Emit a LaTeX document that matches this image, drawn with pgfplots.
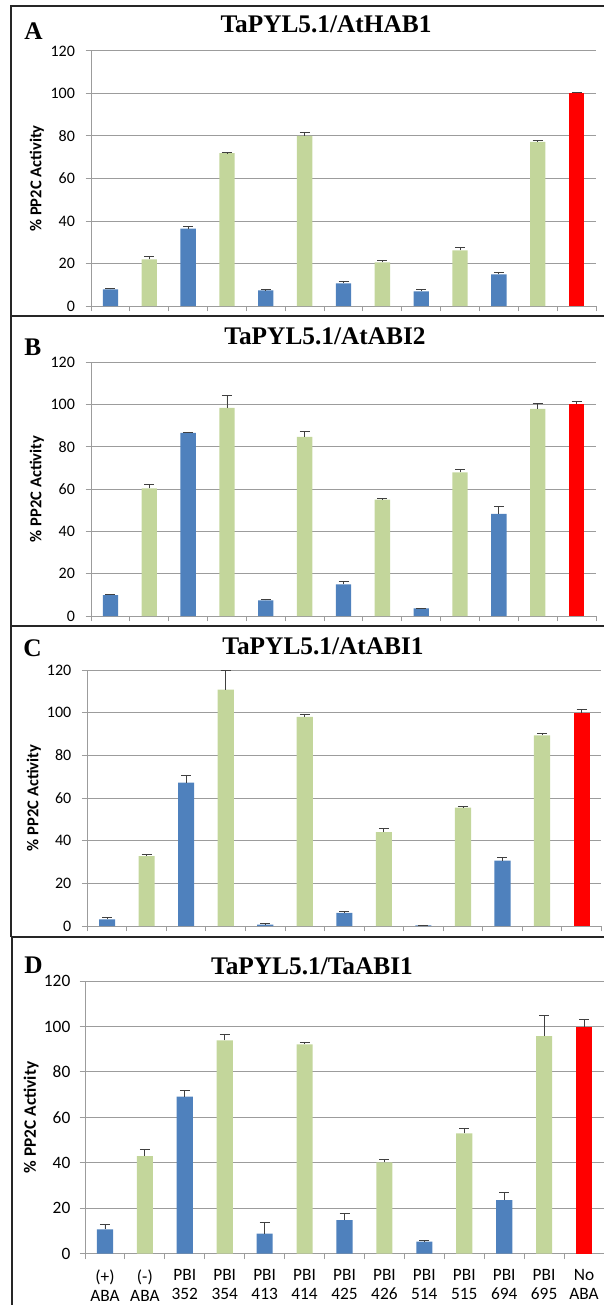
\documentclass[border=0pt]{standalone}
\usepackage{pgfplots}
\pgfplotsset{compat=1.18}
\usepackage{fontspec}
\setmainfont{Liberation Serif}
\newfontfamily\carlito{Carlito}

\definecolor{barblue}{HTML}{4F81BD}
\definecolor{bargreen}{HTML}{C3D69B}
\definecolor{barred}{HTML}{FF0000}
\definecolor{gridgray}{HTML}{9C9C9C}
\definecolor{errgray}{HTML}{404040}

\pgfplotsset{
  ppbase/.style={
    scale only axis, anchor=south west,
    xmin=0.5, xmax=13.5, ymin=0, ymax=120,
    axis x line*=bottom, axis y line*=left,
    axis line style={draw=gridgray, line width=0.75pt},
    ytick={0,20,...,120},
    ymajorgrids, grid style={draw=gridgray, line width=0.75pt},
    xtick={0.5,1.5,...,13.5}, xticklabels={},
    tick align=outside, major tick length=4pt,
    tick style={draw=gridgray, line width=0.75pt},
    /pgf/number format/assume math mode=true,
    ylabel={\bfseries\% PP2C Activity},
    clip=false,
  },
  ppsmall/.style={
    ticklabel style={font=\carlito\fontsize{12}{14}\selectfont},
    yticklabel style={xshift=-4.5pt},
    ylabel style={font=\carlito\fontsize{12.4}{14}\selectfont, anchor=center,
                  at={(axis description cs:#1,0.5)}},
  },
  errbar/.style={
    error bars/.cd, y dir=plus, y explicit,
    error bar style={draw=errgray, line width=0.6pt},
    error mark options={rotate=90, mark size=3.75pt, draw=errgray, line width=0.6pt},
  },
  pbar/.style 2 args={ybar, bar shift=0pt, bar width=#1, fill=#2, draw=none, errbar},
}

\begin{document}
\begin{tikzpicture}
\useasboundingbox (0,0) rectangle (452.25pt,-978.75pt);

% panel frames, letters and titles (pixel grid, y downwards)
\begin{scope}[x=0.75pt, y=-0.75pt]
  \draw[line width=1.4pt, black!85] (11,937) -- (11,6) -- (620,6);
  \draw[line width=1.4pt, black!85] (11,316) -- (620,316);
  \draw[line width=1.4pt, black!85] (11,626) -- (620,626);
  \draw[line width=1.4pt, black!85] (11,937) -- (620,937);
  \draw[line width=1.4pt, black!85] (12,937) -- (12,1320);
  \begin{scope}[every node/.style={inner sep=0pt, font=\bfseries\fontsize{19}{22}\selectfont}]
    \node[anchor=base west] at (24,40) {A};
    \node[anchor=base west] at (24,355) {B};
    \node[anchor=base west] at (23,656) {C};
    \node[anchor=base west] at (24,973) {D};
    \node[anchor=base] at (326,33) {TaPYL5.1/AtHAB1};
    \node[anchor=base] at (325,344) {TaPYL5.1/AtABI2};
    \node[anchor=base] at (323,654) {TaPYL5.1/AtABI1};
    \node[anchor=base] at (312,974) {TaPYL5.1/TaABI1};
  \end{scope}
\end{scope}

% A: TaPYL5.1/AtHAB1
\begin{axis}[ppbase, ppsmall=-0.107, at={(68.25pt,-229.5pt)},
  width=378.75pt, height=191.25pt]
\addplot[pbar={11.5pt}{barblue}] coordinates {
  (1,7.8) +- (0,0.6) (3,36.4) +- (0,1.1) (5,7.4) +- (0,0.3)
  (7,10.7) +- (0,1.1) (9,6.9) +- (0,0.7) (11,14.9) +- (0,0.9)};
\addplot[pbar={11.5pt}{bargreen}] coordinates {
  (2,22.0) +- (0,1.3) (4,71.9) +- (0,0.3) (6,80.0) +- (0,1.6)
  (8,20.5) +- (0,1.1) (10,26.2) +- (0,1.4) (12,77.2) +- (0,0.6)};
\addplot[pbar={11.5pt}{barred}] coordinates {(13,100) +- (0,0.7)};
\end{axis}

% B: TaPYL5.1/AtABI2
\begin{axis}[ppbase, ppsmall=-0.107, at={(68.25pt,-462pt)},
  width=378.75pt, height=190.5pt]
\addplot[pbar={11.5pt}{barblue}] coordinates {
  (1,9.9) +- (0,0.3) (3,86.5) +- (0,0.4) (5,7.4) +- (0,0.5)
  (7,15.0) +- (0,1.2) (9,3.6) +- (0,0.2) (11,48.2) +- (0,3.5)};
\addplot[pbar={11.5pt}{bargreen}] coordinates {
  (2,60.3) +- (0,1.9) (4,98.3) +- (0,5.8) (6,84.6) +- (0,2.5)
  (8,55.0) +- (0,0.4) (10,67.9) +- (0,1.2) (12,97.8) +- (0,2.8)};
\addplot[pbar={11.5pt}{barred}] coordinates {(13,100) +- (0,1.5)};
\end{axis}

% C: TaPYL5.1/AtABI1
\begin{axis}[ppbase, ppsmall=-0.104, at={(65.5pt,-694.5pt)},
  width=385.5pt, height=192pt]
\addplot[pbar={12.1pt}{barblue}] coordinates {
  (1,3.1) +- (0,1.0) (3,67.2) +- (0,3.6) (5,0.6) +- (0,0.8)
  (7,6.1) +- (0,0.8) (9,0.3) +- (0,0.2) (11,30.6) +- (0,1.5)};
\addplot[pbar={12.1pt}{bargreen}] coordinates {
  (2,32.8) +- (0,0.7) (4,110.8) +- (0,8.9) (6,98.0) +- (0,1.4)
  (8,44.0) +- (0,1.7) (10,55.5) +- (0,0.4) (12,89.4) +- (0,1.1)};
\addplot[pbar={12.1pt}{barred}] coordinates {(13,100) +- (0,1.5)};
\end{axis}

% D: TaPYL5.1/TaABI1
\begin{axis}[ppbase, at={(63.75pt,-940.3pt)},
  width=389.25pt, height=204.5pt,
  ticklabel style={font=\carlito\fontsize{13}{14.2}\selectfont},
  yticklabel style={xshift=-3.5pt},
  ylabel style={font=\carlito\fontsize{13}{15}\selectfont, anchor=center,
                at={(axis description cs:-0.104,0.5)}},
  extra x ticks={1,2,...,13},
  extra x tick labels={{(+)\\ABA},{(-)\\ABA},{PBI\\352},{PBI\\354},{PBI\\413},
    {PBI\\414},{PBI\\425},{PBI\\426},{PBI\\514},{PBI\\515},{PBI\\694},
    {PBI\\695},{No\\ABA}},
  extra x tick style={major tick length=0pt, tick style={draw=none},
    xticklabel style={align=center, yshift=-8.5pt}},
]
\addplot[pbar={12.1pt}{barblue}] coordinates {
  (1,10.7) +- (0,2.2) (3,69.2) +- (0,2.6) (5,8.9) +- (0,4.8)
  (7,14.8) +- (0,3.1) (9,5.3) +- (0,0.6) (11,23.6) +- (0,3.4)};
\addplot[pbar={12.1pt}{bargreen}] coordinates {
  (2,43.0) +- (0,2.8) (4,93.9) +- (0,2.6) (6,92.1) +- (0,0.9)
  (8,40.2) +- (0,1.3) (10,53.0) +- (0,2.3) (12,95.8) +- (0,9.1)};
\addplot[pbar={12.1pt}{barred}] coordinates {(13,100) +- (0,3.2)};
\end{axis}
\end{tikzpicture}
\end{document}
